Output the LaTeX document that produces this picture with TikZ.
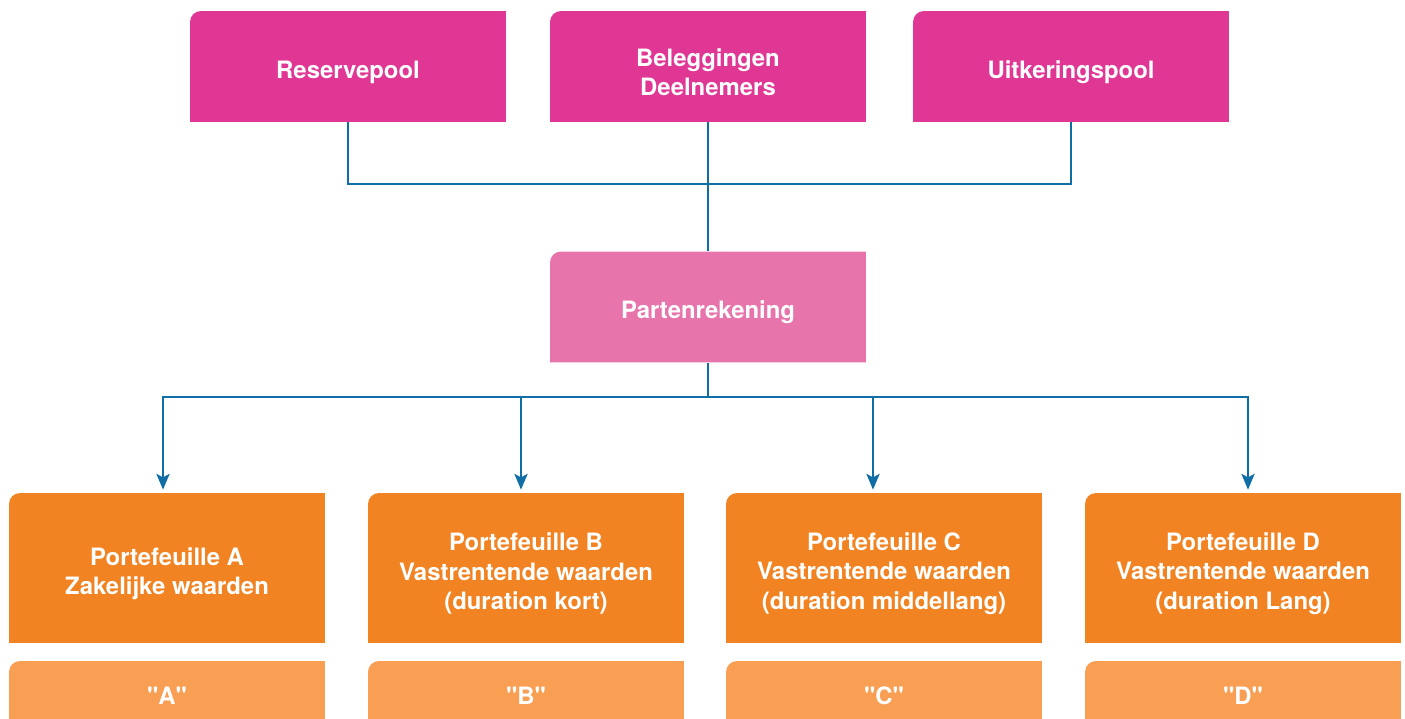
\documentclass[tikz,border=0pt]{standalone}
\usepackage{fontspec}
\setmainfont{TeX Gyre Heros}
\usepackage{xcolor}
\usetikzlibrary{arrows.meta}
\definecolor{poolmagenta}{RGB}{224,54,148}
\definecolor{partpink}{RGB}{231,117,172}
\definecolor{portorange}{RGB}{242,131,34}
\definecolor{letterorange}{RGB}{248,159,84}
\definecolor{flowblue}{RGB}{14,110,165}
\newcommand{\qt}[1]{\textquotedbl#1\textquotedbl}
\newcommand{\lowr}{\rule{0pt}{16.5pt}}

\begin{document}
\begin{tikzpicture}[
  x=0.02cm, y=-0.02cm,
  every node/.style={font=\bfseries\fontsize{13.6}{16.6}\selectfont, text=white},
  tile/.style     = {rectangle, minimum width=6.32cm, minimum height=2.22cm, inner sep=0pt, align=center,
                     path picture={\fill[#1] (path picture bounding box.south west)
                       -- ([yshift=-0.22cm]path picture bounding box.north west)
                       arc[start angle=180, end angle=90, radius=0.22cm]
                       -- (path picture bounding box.north east)
                       -- (path picture bounding box.south east) -- cycle;}},
  pooltile/.style = {tile=poolmagenta},
  parttile/.style = {tile=partpink},
  porttile/.style = {tile=portorange, minimum height=3cm},
  lettile/.style  = {tile=letterorange, minimum height=1.16cm},
  link/.style     = {draw=flowblue, line width=1.15pt},
  flow/.style     = {link, -{Stealth[length=9pt, width=7.5pt, inset=2pt]}, shorten >=0.06cm}
]
\useasboundingbox (0,0) rectangle (1405,719);

%% TOP ROW: pools
\node[pooltile] (res) at ( 348, 66.5) {\lowr Reservepool};
\node[pooltile] (bel) at ( 708, 66.5) {\lowr Beleggingen\\Deelnemers};
\node[pooltile] (uit) at (1071, 66.5) {\lowr Uitkeringspool};

%% MIDDLE
\node[parttile] (part) at (708, 307) {\lowr Partenrekening};
\coordinate (join)  at (708, 184);
\coordinate (split) at (708, 397);

%% BOTTOM ROW: portfolios
\node[porttile] (pA) at ( 167, 568) {\lowr Portefeuille A\\Zakelijke waarden};
\node[porttile] (pB) at ( 526, 568) {\lowr Portefeuille B\\Vastrentende waarden\\(duration kort)};
\node[porttile] (pC) at ( 884, 568) {\lowr Portefeuille C\\Vastrentende waarden\\(duration middellang)};
\node[porttile] (pD) at (1243, 568) {\lowr Portefeuille D\\Vastrentende waarden\\(duration Lang)};

\node[lettile] (lA) at ( 167, 690) {\lowr\qt{A}};
\node[lettile] (lB) at ( 526, 690) {\lowr\qt{B}};
\node[lettile] (lC) at ( 884, 690) {\lowr\qt{C}};
\node[lettile] (lD) at (1243, 690) {\lowr\qt{D}};

%% Connectors
\draw[link] (res.south) |- (join);
\draw[link] (uit.south) |- (join);
\draw[link] (bel.south) -- (part.north);
\draw[link] (part.south) -- (split);
\draw[flow] (split) -| ([xshift=-0.08cm]pA.north);
\draw[flow] (split) -| ([xshift=-0.10cm]pB.north);
\draw[flow] (split) -| ([xshift=-0.22cm]pC.north);
\draw[flow] (split) -| ([xshift=0.10cm]pD.north);
\end{tikzpicture}
\end{document}
